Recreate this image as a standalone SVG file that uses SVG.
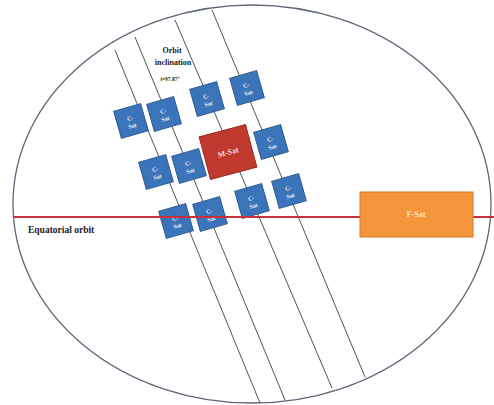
<svg xmlns="http://www.w3.org/2000/svg" width="494" height="405" viewBox="0 0 494 405">
<style>
.orbit{fill:none;stroke:#5a6577;stroke-width:1.3}
.track{stroke:#3f3f3f;stroke-width:0.9;fill:none}
.eq{stroke:#c8303a;stroke-width:2}
.csat rect{fill:#3c74ba;stroke:#2b5b96;stroke-width:1}
.csat text{fill:#e8f0fa;font-family:"Liberation Serif",serif;font-weight:bold;font-size:6px;text-anchor:middle}
.lbl{fill:#222;font-family:"Liberation Serif",serif;font-weight:bold;text-anchor:middle}
</style>
<rect width="494" height="405" fill="#ffffff"/>
<ellipse class="orbit" cx="252" cy="204" rx="239" ry="199"/>
<g id="connectors">
<line class="track" x1="115" y1="50" x2="260" y2="403"/>
<line class="track" x1="135" y1="37" x2="285" y2="400"/>
<line class="track" x1="175" y1="20" x2="332" y2="388"/>
<line class="track" x1="212" y1="10" x2="365" y2="377"/>
</g>
<g id="label-inclination">
<text class="lbl" x="172" y="53" font-size="8">Orbit</text>
<text class="lbl" x="173" y="65" font-size="8">inclination</text>
<text class="lbl" x="170" y="81" font-size="5.5" font-weight="normal">i=97.87°</text>
</g>
<g id="csat1" class="csat" transform="translate(131,121) rotate(-16)"><rect x="-14" y="-14" width="28" height="28"/><text y="-1">C-</text><text y="7">Sat</text></g>
<g id="csat2" class="csat" transform="translate(164,114) rotate(-16)"><rect x="-14" y="-14" width="28" height="28"/><text y="-1">C-</text><text y="7">Sat</text></g>
<g id="csat3" class="csat" transform="translate(207,99) rotate(-16)"><rect x="-14" y="-14" width="28" height="28"/><text y="-1">C-</text><text y="7">Sat</text></g>
<g id="csat4" class="csat" transform="translate(247,88) rotate(-16)"><rect x="-14" y="-14" width="28" height="28"/><text y="-1">C-</text><text y="7">Sat</text></g>
<g id="csat5" class="csat" transform="translate(156,172) rotate(-16)"><rect x="-14" y="-14" width="28" height="28"/><text y="-1">C-</text><text y="7">Sat</text></g>
<g id="csat6" class="csat" transform="translate(189,166) rotate(-16)"><rect x="-14" y="-14" width="28" height="28"/><text y="-1">C-</text><text y="7">Sat</text></g>
<g id="csat7" class="csat" transform="translate(271,142) rotate(-16)"><rect x="-14" y="-14" width="28" height="28"/><text y="-1">C-</text><text y="7">Sat</text></g>
<g id="csat8" class="csat" transform="translate(176,221) rotate(-16)"><rect x="-14" y="-14" width="28" height="28"/><text y="-1">C-</text><text y="7">Sat</text></g>
<g id="csat9" class="csat" transform="translate(210,214) rotate(-16)"><rect x="-14" y="-14" width="28" height="28"/><text y="-1">C-</text><text y="7">Sat</text></g>
<g id="csat10" class="csat" transform="translate(252,201) rotate(-16)"><rect x="-14" y="-14" width="28" height="28"/><text y="-1">C-</text><text y="7">Sat</text></g>
<g id="csat11" class="csat" transform="translate(289,191) rotate(-16)"><rect x="-14" y="-14" width="28" height="28"/><text y="-1">C-</text><text y="7">Sat</text></g>
<g id="msat" transform="translate(228,152) rotate(-15)"><rect x="-24" y="-22" width="48" height="44" fill="#c0392f" stroke="#9a2a22" stroke-width="1"/><text y="3" fill="#f6dcd8" font-family="Liberation Serif,serif" font-weight="bold" font-size="8" text-anchor="middle">M-Sat</text></g>
<line id="equatorial" class="eq" x1="13" y1="217" x2="494" y2="217"/>
<g id="fsat"><rect x="360" y="192" width="113" height="45" fill="#f5953b" stroke="#d27a2a" stroke-width="1"/><text x="416" y="217" fill="#fde3c6" font-family="Liberation Serif,serif" font-weight="bold" font-size="8" text-anchor="middle">F-Sat</text></g>
<g id="label-equatorial"><text class="lbl" x="28" y="233" font-size="9.5" text-anchor="start" style="text-anchor:start">Equatorial orbit</text></g>
</svg>
